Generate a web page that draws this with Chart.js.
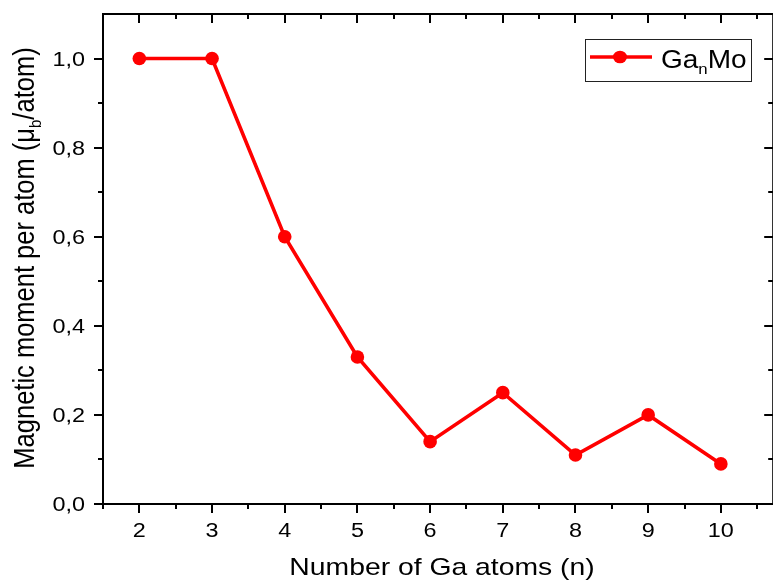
<!DOCTYPE html>
<html>
<head>
<meta charset="utf-8">
<script src="https://cdn.jsdelivr.net/npm/chart.js@4"></script>
<style>
  html, body { margin: 0; padding: 0; background: #fff; overflow: hidden; }
  #wrap { width: 780px; height: 582px; }
</style>
</head>
<body>
<div id="wrap"><canvas id="momentChart" width="780" height="582"></canvas></div>
<script>
// number of Ga atoms and the magnetic moment per atom
const atomCounts = [2, 3, 4, 5, 6, 7, 8, 9, 10];
const momentValues = [1.0, 1.0, 0.6, 0.33, 0.14, 0.25, 0.11, 0.20, 0.09];
const xTickValues = [2, 3, 4, 5, 6, 7, 8, 9, 10];
const yTickValues = [0, 0.2, 0.4, 0.6, 0.8, 1.0];
const xMinorValues = [1.5, 2.5, 3.5, 4.5, 5.5, 6.5, 7.5, 8.5, 9.5, 10.5];
const yMinorValues = [0.1, 0.3, 0.5, 0.7, 0.9];

const FONT = '"Liberation Sans", Arial, sans-serif';

// text drawn a bit wider than normal, like the original export
function wideText(ctx, txt, x, y, size, sx, align) {
    ctx.save();
    ctx.translate(x, y);
    ctx.scale(sx, 1);
    ctx.font = size + 'px ' + FONT;
    ctx.textAlign = align;
    ctx.fillText(txt, 0, 0);
    ctx.restore();
}

// draws the frame, ticks, tick labels, axis titles and the legend
const framePlugin = {
    id: 'frame',
    afterDraw(chart) {
        const ctx = chart.ctx;
        const a = chart.chartArea;
        const xs = chart.scales.x;
        const ys = chart.scales.y;
        ctx.save();
        ctx.strokeStyle = '#000';
        ctx.lineWidth = 2;
        ctx.strokeRect(a.left, a.top, a.right - a.left, a.bottom - a.top);

        ctx.beginPath();
        xMinorValues.forEach(v => {
            const px = Math.round(xs.getPixelForValue(v));
            ctx.moveTo(px, a.bottom); ctx.lineTo(px, a.bottom + 5);
            ctx.moveTo(px, a.top); ctx.lineTo(px, a.top + 5);
        });
        xTickValues.forEach(v => {
            const px = Math.round(xs.getPixelForValue(v));
            ctx.moveTo(px, a.bottom); ctx.lineTo(px, a.bottom + 9);
            ctx.moveTo(px, a.top); ctx.lineTo(px, a.top + 9);
        });
        yMinorValues.forEach(v => {
            const py = Math.round(ys.getPixelForValue(v));
            ctx.moveTo(a.left, py); ctx.lineTo(a.left - 5, py);
            ctx.moveTo(a.right, py); ctx.lineTo(a.right - 5, py);
        });
        yTickValues.forEach(v => {
            const py = Math.round(ys.getPixelForValue(v));
            ctx.moveTo(a.left, py); ctx.lineTo(a.left - 9, py);
            ctx.moveTo(a.right, py); ctx.lineTo(a.right - 9, py);
        });
        ctx.stroke();

        ctx.fillStyle = '#000';
        ctx.textBaseline = 'alphabetic';

        // tick labels
        xTickValues.forEach(v => {
            wideText(ctx, String(v), xs.getPixelForValue(v), a.bottom + 33, 19.5, 1.2, 'center');
        });
        yTickValues.forEach(v => {
            wideText(ctx, v.toFixed(1).replace('.', ','), a.left - 18, ys.getPixelForValue(v) + 7, 19.5, 1.2, 'right');
        });

        // x title
        wideText(ctx, 'Number of Ga atoms (n)', 442, 575, 24, 1.18, 'center');

        // y title with subscript b
        ctx.save();
        ctx.translate(34, 258);
        ctx.scale(1.15, 1);
        ctx.rotate(-Math.PI / 2);
        const big = '25.5px ' + FONT;
        const small = '15px ' + FONT;
        const p1 = 'Magnetic moment per atom (\u03bc';
        const p2 = 'b';
        const p3 = '/atom)';
        ctx.font = big; const w1 = ctx.measureText(p1).width; const w3 = ctx.measureText(p3).width;
        ctx.font = small; const w2 = ctx.measureText(p2).width;
        const x0 = -(w1 + w2 + w3) / 2;
        ctx.textAlign = 'left';
        ctx.font = big; ctx.fillText(p1, x0, 0);
        ctx.font = small; ctx.fillText(p2, x0 + w1, 6);
        ctx.font = big; ctx.fillText(p3, x0 + w1 + w2, 0);
        ctx.restore();

        // legend
        const lx = 585, ly = 39, lw = 166, lh = 42;
        ctx.lineWidth = 1;
        ctx.strokeStyle = '#222';
        ctx.strokeRect(lx + 0.5, ly + 0.5, lw, lh);
        const my = ly + 18;
        ctx.strokeStyle = '#ff0000';
        ctx.lineWidth = 3.5;
        ctx.beginPath(); ctx.moveTo(590, my); ctx.lineTo(652, my); ctx.stroke();
        ctx.fillStyle = '#ff0000';
        ctx.beginPath(); ctx.ellipse(620, my, 7, 6.3, 0, 0, Math.PI * 2); ctx.fill();
        ctx.fillStyle = '#000';
        ctx.save();
        ctx.translate(661, my + 11);
        ctx.scale(1.12, 1);
        ctx.textAlign = 'left';
        ctx.font = '25px ' + FONT;
        ctx.fillText('Ga', 0, 0);
        const wGa = ctx.measureText('Ga').width;
        ctx.font = '15px ' + FONT;
        ctx.fillText('n', wGa, 6);
        const wn = ctx.measureText('n').width;
        ctx.font = '25px ' + FONT;
        ctx.fillText('Mo', wGa + wn, 0);
        ctx.restore();
        ctx.restore();
    }
};

const ctxMoment = document.getElementById('momentChart').getContext('2d');

const momentChart = new Chart(ctxMoment, {
    type: 'line',
    data: {
        datasets: [{
            label: 'GanMo',
            data: atomCounts.map((n, i) => ({ x: n, y: momentValues[i] })),
            borderColor: '#ff0000',
            backgroundColor: '#ff0000',
            borderWidth: 3.6,
            pointRadius: 6.8,
            pointBorderWidth: 0,
            tension: 0
        }]
    },
    options: {
        responsive: false,
        animation: false,
        layout: { padding: { top: 14, right: 4, left: 0, bottom: 0 } },
        plugins: {
            legend: { display: false },
            tooltip: { enabled: false }
        },
        scales: {
            x: {
                type: 'linear',
                min: 1.5,
                max: 10.72,
                afterBuildTicks: s => { s.ticks = xTickValues.map(v => ({ value: v })); },
                afterFit: s => { s.height = 78; },
                border: { display: false },
                grid: { display: false },
                ticks: { display: false }
            },
            y: {
                min: 0,
                max: 1.1,
                afterBuildTicks: s => { s.ticks = yTickValues.map(v => ({ value: v })); },
                afterFit: s => { s.width = 103; },
                border: { display: false },
                grid: { display: false },
                ticks: { display: false }
            }
        }
    },
    plugins: [framePlugin]
});
</script>
</body>
</html>
